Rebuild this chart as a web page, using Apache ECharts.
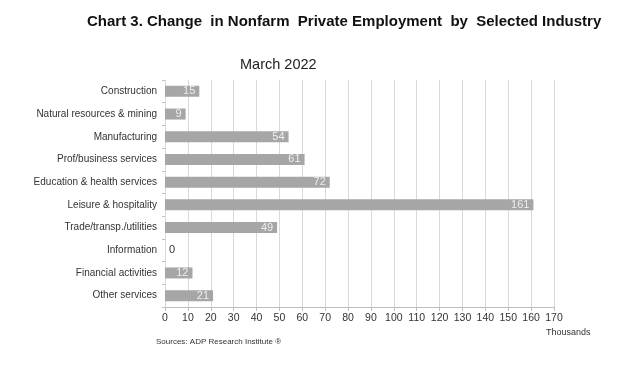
<!DOCTYPE html>
<html><head><meta charset="utf-8">
<script src="https://cdn.jsdelivr.net/npm/echarts@6/dist/echarts.min.js"></script>
<style>html,body{margin:0;padding:0;background:#fff}#c{width:640px;height:374px}</style>
</head><body><div id="c"></div>
<script>
var categories = ["Construction","Natural resources & mining","Manufacturing","Prof/business services","Education & health services","Leisure & hospitality","Trade/transp./utilities","Information","Financial activities","Other services"];
var values = [15, 9, 54, 61, 72, 161, 49, 0, 12, 21];
var xTicks = [0,10,20,30,40,50,60,70,80,90,100,110,120,130,140,150,160,170];

var chart = echarts.init(document.getElementById('c'));
var data = values.map(function(v){
  if (v === 0) return {value: v, label: {position: 'right', color: '#333', distance: 4}};
  return {value: v};
});
chart.setOption({
  animation: false,
  title: [
    {text: 'Chart 3. Change  in Nonfarm  Private Employment  by  Selected Industry', left: 87, top: 14, padding: 0,
     textStyle: {fontFamily: 'Liberation Sans', fontWeight: 'bold', fontSize: 15, color: '#111'}},
    {text: 'March 2022', left: 240, top: 57, padding: 0, textStyle: {fontFamily: 'Liberation Sans', fontWeight: 'normal', fontSize: 14.5, color: '#222'}},
    {text: 'Sources: ADP Research Institute ®', left: 156, top: 338, padding: 0, textStyle: {fontFamily: 'Liberation Sans', fontWeight: 'normal', fontSize: 8, color: '#333'}}
  ],
  grid: {left: 165, right: 86, top: 80, bottom: 67},
  xAxis: {
    type: 'value', min: 0, max: 170, interval: 10,
    name: 'Thousands', nameLocation: 'end', nameGap: 0,
    nameTextStyle: {fontFamily: 'Liberation Sans', fontSize: 9, color: '#333', align: 'left', verticalAlign: 'top', padding: [21, 0, 0, -8]},
    axisLine: {show: true, lineStyle: {color: '#bfbfbf'}},
    axisTick: {show: true, length: 4, lineStyle: {color: '#bfbfbf'}},
    axisLabel: {fontFamily: 'Liberation Sans', fontSize: 10.5, color: '#333', margin: 6,
      formatter: function(v){ return xTicks.indexOf(v) >= 0 ? String(v) : ''; }},
    splitLine: {show: true, lineStyle: {color: '#d9d9d9'}}
  },
  yAxis: {
    type: 'category', data: categories, inverse: true,
    axisLine: {show: true, lineStyle: {color: '#d9d9d9'}},
    axisTick: {show: true, length: 3, lineStyle: {color: '#bfbfbf'}},
    axisLabel: {fontFamily: 'Liberation Sans', fontSize: 10, color: '#333', margin: 8}
  },
  series: [{
    type: 'bar', data: data, barWidth: 11,
    itemStyle: {color: '#a6a6a6'},
    label: {show: true, position: 'insideRight', color: '#eeeeee', fontFamily: 'Liberation Sans', fontSize: 11, distance: 4}
  }]
});
</script></body></html>
